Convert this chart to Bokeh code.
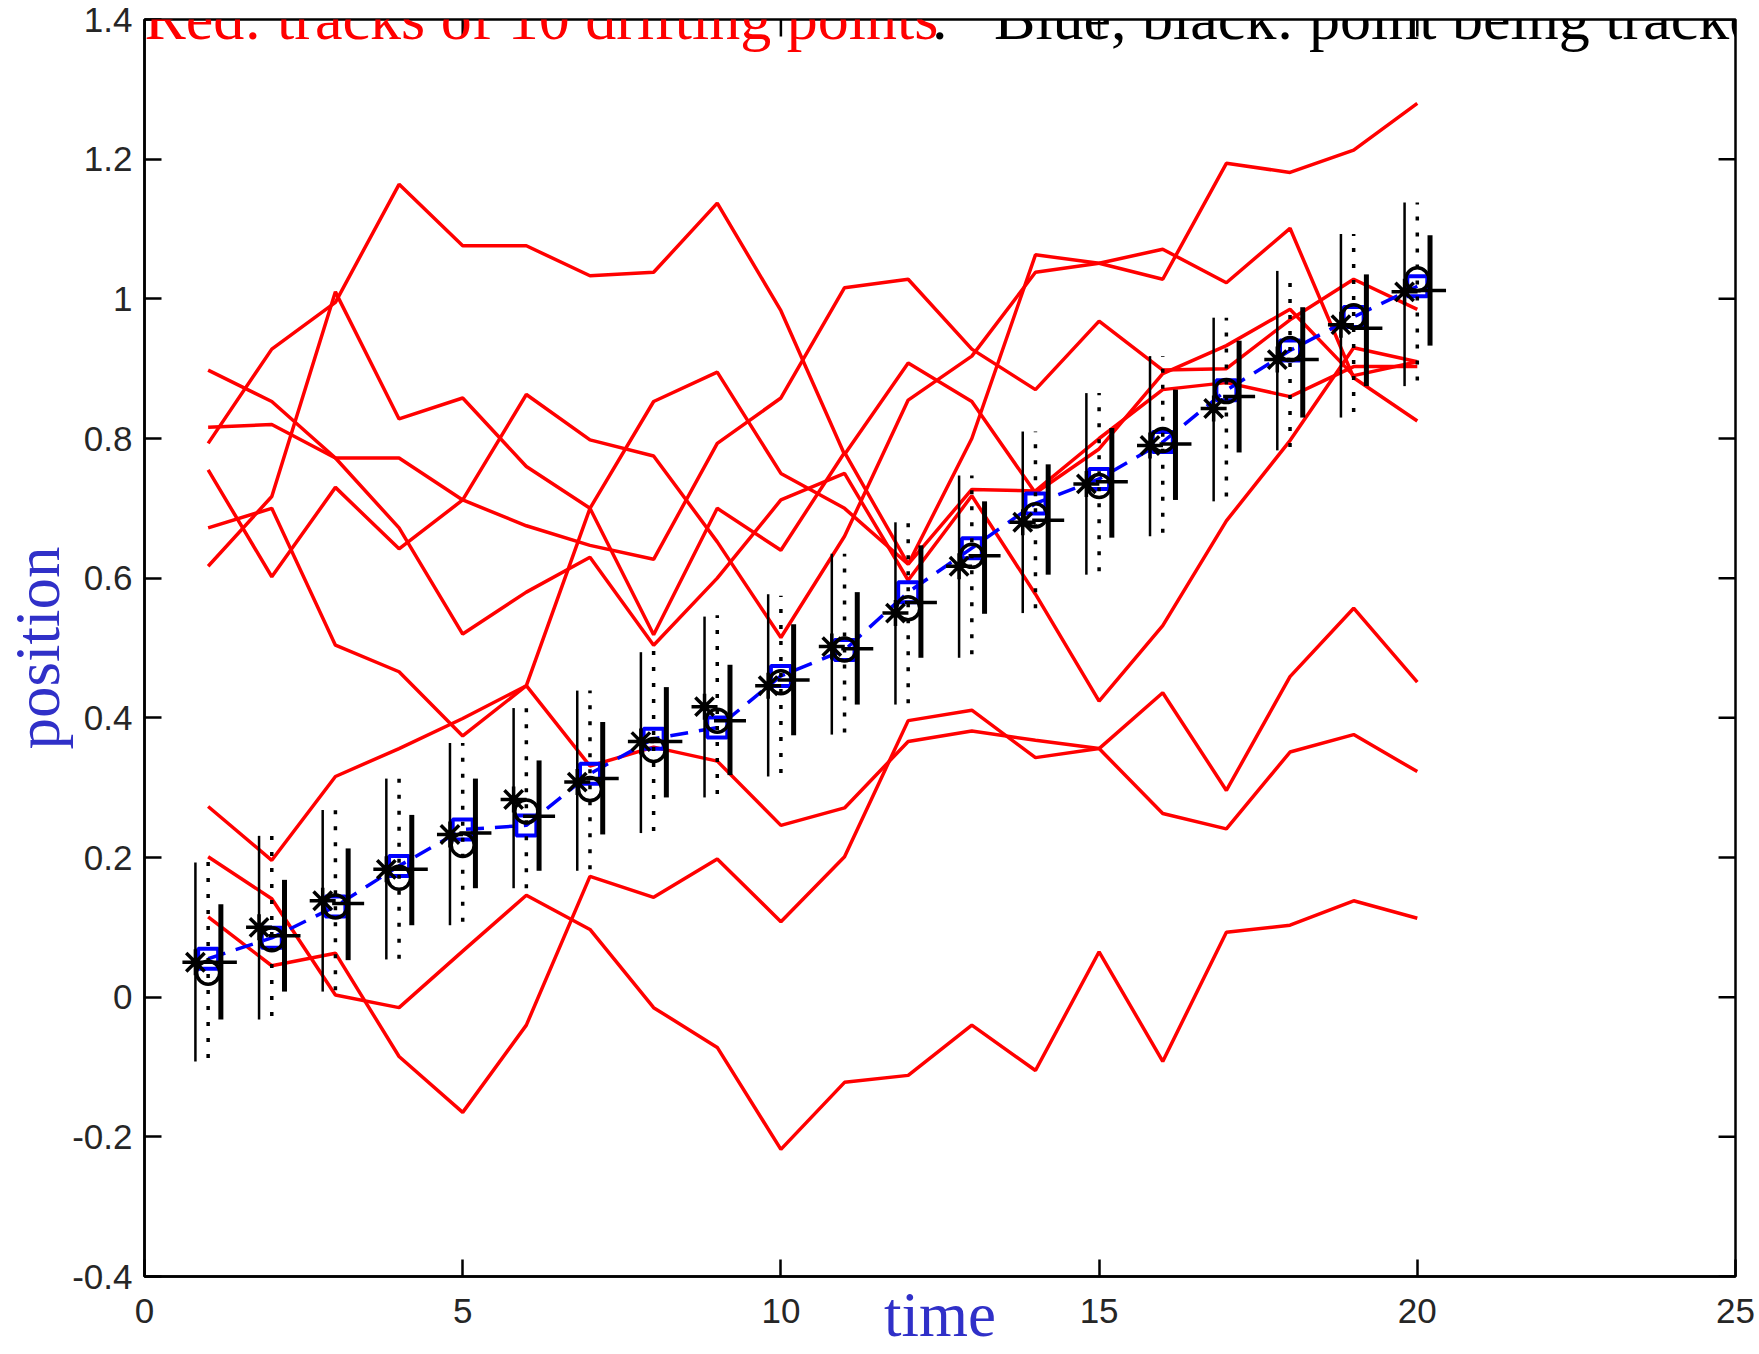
from bokeh.plotting import figure
from bokeh.models import Range1d, FixedTicker, Label
from bokeh.embed import file_html
from bokeh.resources import INLINE

# ---------------- data ----------------
t = list(range(1, 21))

track_a = [0.898, 0.853, 0.772, 0.772, 0.712, 0.675, 0.647, 0.627, 0.793, 0.858,
           1.016, 1.028, 0.928, 0.870, 0.968, 0.898, 0.900, 0.970, 1.028, 0.985]
track_b = [0.816, 0.820, 0.772, 0.672, 0.520, 0.580, 0.630, 0.504, 0.600, 0.712,
           0.750, 0.597, 0.718, 0.577, 0.424, 0.532, 0.682, 0.797, 0.930, 0.910]
track_c = [0.793, 0.928, 0.995, 1.164, 1.076, 1.076, 1.033, 1.038, 1.137, 0.983,
           0.777, 0.908, 0.853, 0.722, 0.785, 0.893, 0.933, 0.985, 0.890, 0.910]
track_d = [0.617, 0.717, 1.010, 0.828, 0.858, 0.760, 0.700, 0.853, 0.895, 0.750,
           0.700, 0.620, 0.800, 1.063, 1.051, 1.028, 1.194, 1.181, 1.213, 1.280]
track_e = [0.755, 0.602, 0.730, 0.642, 0.712, 0.863, 0.798, 0.775, 0.652, 0.515,
           0.660, 0.855, 0.918, 1.038, 1.051, 1.071, 1.023, 1.101, 0.887, 0.825]
track_f = [0.672, 0.700, 0.504, 0.466, 0.374, 0.446, 0.700, 0.519, 0.700, 0.640,
           0.780, 0.620, 0.727, 0.725, 0.800, 0.870, 0.880, 0.860, 0.903, 0.903]
track_g = [0.273, 0.196, 0.316, 0.356, 0.399, 0.446, 0.331, 0.358, 0.338, 0.246,
           0.271, 0.366, 0.381, 0.368, 0.356, 0.263, 0.241, 0.351, 0.376, 0.323]
track_h = [0.201, 0.141, 0.003, -0.015, 0.066, 0.146, 0.097, -0.015, -0.072, -0.218,
           -0.122, -0.112, -0.040, -0.105, 0.065, -0.092, 0.093, 0.103, 0.138, 0.113]
track_i = [0.115, 0.045, 0.063, -0.085, -0.165, -0.040, 0.173, 0.143, 0.198, 0.108,
           0.201, 0.396, 0.411, 0.343, 0.356, 0.436, 0.296, 0.459, 0.557, 0.451]
tracks = [track_a, track_b, track_c, track_d, track_e, track_f, track_g, track_h, track_i]

true_pos = [0.055, 0.085, 0.130, 0.188, 0.240, 0.246, 0.320, 0.370, 0.386, 0.460,
            0.497, 0.580, 0.643, 0.707, 0.742, 0.795, 0.869, 0.926, 0.974, 1.018]

star_est = [0.050, 0.100, 0.138, 0.183, 0.233, 0.283, 0.308, 0.366, 0.416, 0.446,
            0.502, 0.550, 0.617, 0.680, 0.735, 0.790, 0.843, 0.913, 0.963, 1.010]
star_hi = [0.193, 0.231, 0.268, 0.313, 0.364, 0.414, 0.439, 0.494, 0.545, 0.577,
           0.635, 0.680, 0.747, 0.810, 0.865, 0.918, 0.973, 1.040, 1.093, 1.138]
star_lo = [-0.092, -0.032, 0.008, 0.054, 0.103, 0.156, 0.181, 0.235, 0.286, 0.316,
           0.376, 0.419, 0.486, 0.550, 0.605, 0.660, 0.710, 0.783, 0.830, 0.875]

circ_est = [0.035, 0.083, 0.130, 0.171, 0.218, 0.266, 0.298, 0.354, 0.396, 0.451,
            0.498, 0.557, 0.632, 0.690, 0.732, 0.798, 0.868, 0.928, 0.975, 1.028]
circ_hi = [0.196, 0.231, 0.268, 0.313, 0.364, 0.414, 0.439, 0.500, 0.547, 0.575,
           0.635, 0.680, 0.747, 0.810, 0.865, 0.918, 0.973, 1.040, 1.093, 1.138]
circ_lo = [-0.087, -0.027, 0.010, 0.055, 0.108, 0.156, 0.183, 0.238, 0.291, 0.321,
           0.379, 0.421, 0.491, 0.557, 0.610, 0.665, 0.717, 0.788, 0.838, 0.883]

plus_est = [0.050, 0.088, 0.134, 0.183, 0.235, 0.259, 0.313, 0.366, 0.396, 0.454,
            0.499, 0.565, 0.632, 0.683, 0.738, 0.792, 0.860, 0.913, 0.958, 1.012]
plus_hi = [0.133, 0.168, 0.213, 0.261, 0.313, 0.339, 0.394, 0.444, 0.476, 0.534,
           0.580, 0.647, 0.710, 0.763, 0.815, 0.870, 0.940, 0.988, 1.035, 1.091]
plus_lo = [-0.032, 0.008, 0.053, 0.103, 0.156, 0.181, 0.233, 0.286, 0.318, 0.375,
           0.419, 0.486, 0.549, 0.605, 0.658, 0.712, 0.780, 0.830, 0.875, 0.933]

x_ticks = [0, 5, 10, 15, 20, 25]
y_ticks = [-0.4, -0.2, 0, 0.2, 0.4, 0.6, 0.8, 1, 1.2, 1.4]
y_tick_labels = ["-0.4", "-0.2", "0", "0.2", "0.4", "0.6", "0.8", "1", "1.2", "1.4"]

title_red = "Red: tracks of 10 drifting points"
title_black = ".\u00a0\u00a0\u00a0Blue, black: point being tracked"
x_title = "time"
y_title = "position"

# ---------------- layout ----------------
X0, X1, Y0, Y1 = 0, 25, -0.4, 1.4
FRAME_W, FRAME_H = 1596, 1260
LEFT, TOP, RIGHT, BOTTOM = 139, 19, 22, 73
TICK = 17
px_x = (X1 - X0) / FRAME_W
px_y = (Y1 - Y0) / FRAME_H
LABEL_BLUE = "#3030c8"

p = figure(width=LEFT + FRAME_W + RIGHT, height=TOP + FRAME_H + BOTTOM,
           x_range=Range1d(X0, X1), y_range=Range1d(Y0, Y1),
           output_backend="svg", toolbar_location=None,
           min_border_left=LEFT, min_border_right=RIGHT,
           min_border_top=TOP, min_border_bottom=BOTTOM)
p.grid.visible = False
p.outline_line_color = "black"
p.outline_line_width = 2.5
p.background_fill_color = "white"
p.border_fill_color = "white"

for ax, ticks in ((p.xaxis[0], x_ticks), (p.yaxis[0], y_ticks)):
    ax.ticker = FixedTicker(ticks=ticks)
    ax.major_tick_in = TICK
    ax.major_tick_out = 0
    ax.minor_tick_in = 0
    ax.minor_tick_out = 0
    ax.axis_line_width = 2.5
    ax.axis_line_color = "black"
    ax.major_tick_line_width = 2.5
    ax.major_tick_line_color = "black"
    ax.major_label_text_font = "Liberation Sans"
    ax.major_label_text_font_size = "35px"
    ax.major_label_text_color = "#262626"
    ax.axis_label_text_font = "Liberation Serif"
    ax.axis_label_text_font_size = "63px"
    ax.axis_label_text_font_style = "normal"
    ax.axis_label_text_color = LABEL_BLUE

p.yaxis[0].major_label_overrides = dict(zip(y_ticks, y_tick_labels))
p.xaxis[0].major_label_standoff = 22
p.yaxis[0].major_label_standoff = 12
p.xaxis[0].axis_label = x_title
p.xaxis[0].axis_label_standoff = -46
p.yaxis[0].axis_label = y_title
p.yaxis[0].axis_label_standoff = -4

# mirrored inward ticks on top and right edges of the box
n_x, n_y = len(x_ticks), len(y_ticks)
p.segment(x_ticks, [Y1] * n_x, x_ticks, [Y1 - TICK * px_y] * n_x,
          line_color="black", line_width=2.5)
p.segment([X1] * n_y, y_ticks, [X1 - TICK * px_x] * n_y, y_ticks,
          line_color="black", line_width=2.5)

# red tracks
for tr in tracks:
    p.line(t, tr, line_color="#ff0000", line_width=3.5)

# tracked point (true position)
p.line(t, true_pos, line_color="#0000ff", line_width=3.5, line_dash="18 11")
p.scatter(t, true_pos, marker="square", size=20, fill_color=None,
          line_color="#0000ff", line_width=4)

t_left = [v - 0.2 for v in t]
t_right = [v + 0.2 for v in t]
p.segment(t_left, star_lo, t_left, star_hi, line_color="black", line_width=2.5)
p.segment(t, circ_lo, t, circ_hi, line_color="black", line_width=3.5, line_dash="4 12")
p.segment(t_right, plus_lo, t_right, plus_hi, line_color="black", line_width=5)

p.scatter(t_left, star_est, marker="asterisk", size=26, line_color="black", line_width=3.5)
p.scatter(t, circ_est, marker="circle", size=23, fill_color=None, line_color="black", line_width=3.5)
p.scatter(t_right, plus_est, marker="cross", size=32, line_color="black", line_width=3.5)

# two-colour title, cut by the top edge as in the original
TITLE_Y = Y1 + 2 * px_y
p.add_layout(Label(x=X0, y=TITLE_Y, text=title_red, text_color="#ff0000",
                   text_font="Liberation Serif", text_font_size="62px",
                   text_baseline="alphabetic", text_align="left"))
p.add_layout(Label(x=X0 + 790 * px_x, y=TITLE_Y, text=title_black, text_color="black",
                   text_font="Liberation Serif", text_font_size="62px",
                   text_baseline="alphabetic", text_align="left"))

open("out.html", "w").write(file_html(p, INLINE))
